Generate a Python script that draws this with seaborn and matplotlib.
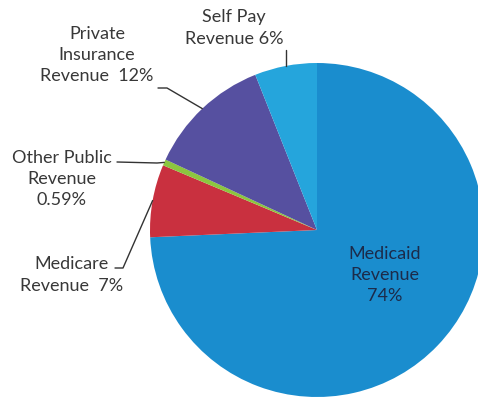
import numpy as np
import matplotlib
matplotlib.use("Agg")
import matplotlib.pyplot as plt
import seaborn as sns

# Revenue mix
categories = ["Medicaid Revenue", "Medicare Revenue", "Other Public Revenue",
              "Private Insurance Revenue", "Self Pay Revenue"]
shares = [74, 7, 0.59, 12, 6]
labels = ["Medicaid\nRevenue\n74%", "Medicare\nRevenue  7%", "Other Public\nRevenue\n0.59%",
          "Private\nInsurance\nRevenue  12%", "Self Pay\nRevenue 6%"]
colors = ["#1a8dce", "#c9303f", "#8cc63f", "#5650a0", "#25a5dc"]

sns.set_theme(style="white")
plt.rcParams["font.family"] = ["Lato", "DejaVu Sans"]

fig = plt.figure(figsize=(4.78, 4.00), dpi=100)
ax = fig.add_axes([0, 0, 1, 1])

cx, cy, r = 317, 170, 167
wedges, _ = ax.pie(shares, colors=colors, startangle=90, counterclock=False,
                   center=(cx, cy), radius=r, frame=True,
                   wedgeprops=dict(linewidth=0))
ax.set_xlim(0, 478)
ax.set_ylim(0, 400)
ax.set_aspect("equal")
ax.axis("off")

txt = "#383838"
fs = 13


def rim(w, frac=1.0):
    a = np.deg2rad((w.theta1 + w.theta2) / 2)
    return cx + r * frac * np.cos(a), cy + r * frac * np.sin(a)


# Medicaid label inside the slice
ax.text(385, 400 - 275, labels[0], ha="center", va="center", fontsize=fs,
        color="#1c2b4a", linespacing=1.4)

# Outside labels with leader lines
ax.text(234, 400 - 28, labels[4], ha="center", va="center", fontsize=fs,
        color=txt, linespacing=1.4)
x, y = rim(wedges[4])
ax.plot([x, x], [400 - 50, y], color="#333333", lw=1)

ax.text(97, 400 - 55, labels[3], ha="center", va="center", fontsize=fs,
        color=txt, linespacing=1.4)
x, y = rim(wedges[3])
ax.plot([158, 167, x], [400 - 88, 400 - 88, y], color="#333333", lw=1)

ax.text(62, 400 - 179, labels[2], ha="center", va="center", fontsize=fs,
        color=txt, linespacing=1.4)
x, y = rim(wedges[2])
ax.plot([117, 157, x], [400 - 162, 400 - 163, y], color="#333333", lw=1)

ax.text(72, 400 - 275, labels[1], ha="center", va="center", fontsize=fs,
        color=txt, linespacing=1.4)
x, y = rim(wedges[1])
ax.plot([115, 123, x], [400 - 268, 400 - 268, y], color="#333333", lw=1)

fig.savefig("out.png", dpi=100, facecolor="white")
